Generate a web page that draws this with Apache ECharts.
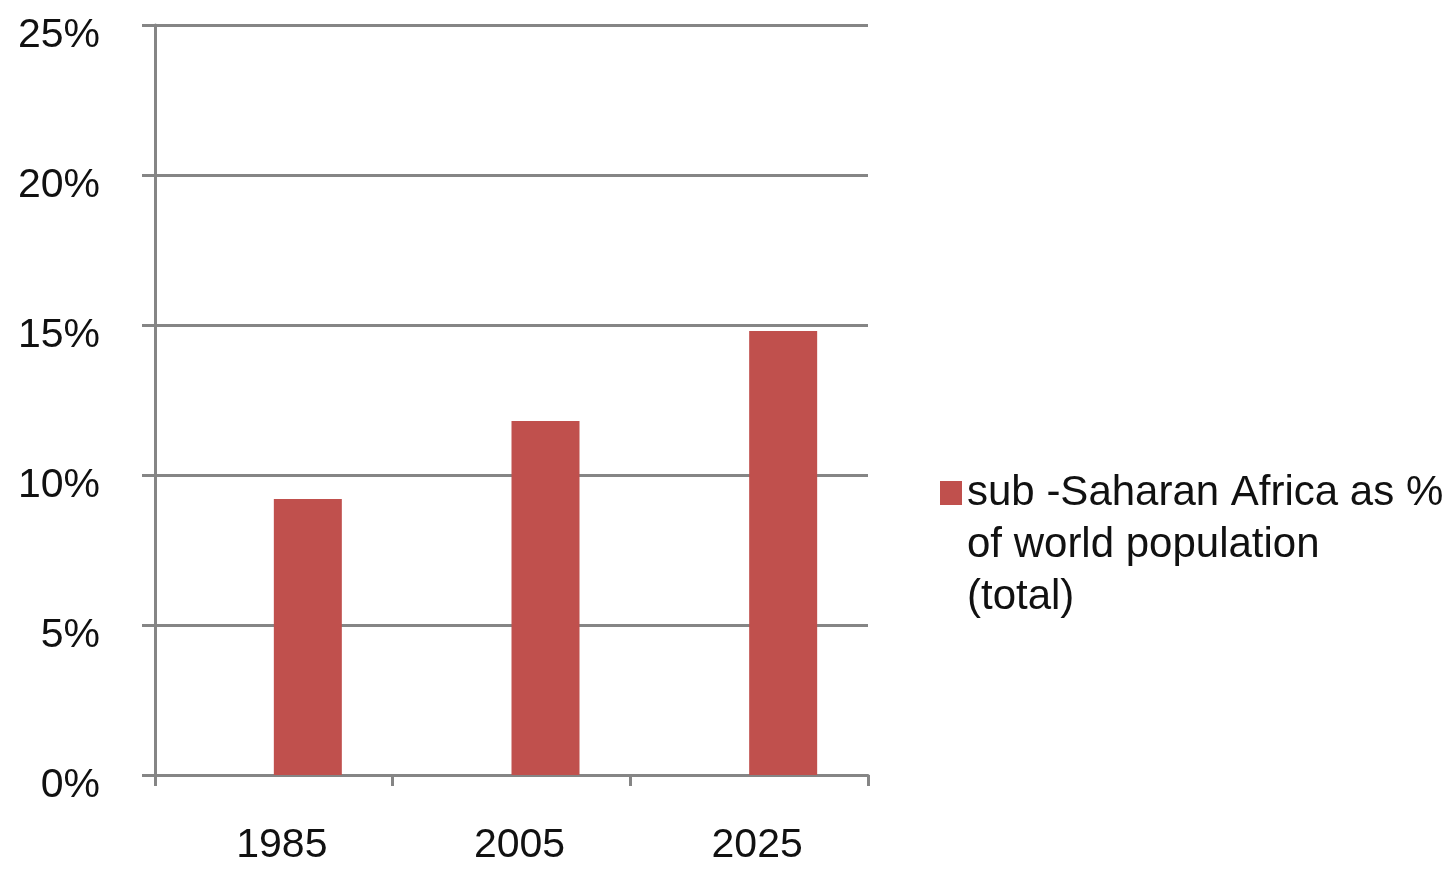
<!DOCTYPE html>
<html>
<head>
<meta charset="utf-8">
<title>sub-Saharan Africa as % of world population</title>
<script src="https://cdn.jsdelivr.net/npm/echarts@6/dist/echarts.min.js"></script>
<style>
  html, body { margin: 0; padding: 0; background: #ffffff; }
  #chart { width: 1455px; height: 869px; }
</style>
</head>
<body>
<div id="chart"></div>
<script>
// Years on the category axis
const years = ['1985', '2005', '2025'];
// sub-Saharan Africa share of world population, in percent
const shareTotal = [9.2, 11.8, 14.8];
// Empty companion series: keeps the bar in the right-hand slot of each category
const companion = [null, null, null];
// Value axis ticks, in percent
const yTicks = [0, 5, 10, 15, 20, 25];

const seriesName = 'sub -Saharan Africa as %\nof world population\n(total)';
const gray = '#858585';
const font = '"Liberation Sans", Arial, sans-serif';

const chart = echarts.init(document.getElementById('chart'), null, { renderer: 'canvas' });

chart.setOption({
  animation: false,
  backgroundColor: '#ffffff',
  grid: { left: 155, right: 587, top: 25, bottom: 94, containLabel: false },
  legend: {
    data: [seriesName],
    orient: 'vertical',
    left: 935,
    top: 358,
    icon: 'rect',
    itemWidth: 22,
    itemHeight: 24,
    itemGap: 0,
    selectedMode: false,
    // two leading blank lines so the swatch sits beside the first text line
    formatter: function (name) { return '\n\n' + name; },
    textStyle: {
      fontFamily: font,
      fontSize: 42,
      color: '#111111',
      lineHeight: 52
    }
  },
  xAxis: {
    type: 'category',
    data: years,
    boundaryGap: true,
    axisLine: { show: true, lineStyle: { color: gray, width: 3 } },
    axisTick: { show: true, alignWithLabel: false, length: 11, lineStyle: { color: gray, width: 3 } },
    axisLabel: { fontFamily: font, fontSize: 41, color: '#111111', margin: 50, padding: [0, 0, 0, 16] },
    splitLine: { show: false }
  },
  yAxis: {
    type: 'value',
    min: yTicks[0],
    max: yTicks[yTicks.length - 1],
    interval: yTicks[1] - yTicks[0],
    axisLine: { show: true, lineStyle: { color: gray, width: 3 } },
    axisTick: { show: true, length: 13, lineStyle: { color: gray, width: 3 } },
    axisLabel: {
      fontFamily: font,
      fontSize: 41,
      color: '#111111',
      margin: 55,
      verticalAlign: 'top',
      lineHeight: 22,
      formatter: '{value}%'
    },
    splitLine: { show: true, lineStyle: { color: gray, width: 3 } }
  },
  series: [
    {
      name: 'companion',
      type: 'bar',
      data: companion,
      barWidth: 68,
      barGap: '0%',
      itemStyle: { color: 'rgba(0,0,0,0)' }
    },
    {
      name: seriesName,
      type: 'bar',
      data: shareTotal,
      barWidth: 68,
      barGap: '0%',
      itemStyle: { color: '#C0504D' }
    }
  ]
});
</script>
</body>
</html>
